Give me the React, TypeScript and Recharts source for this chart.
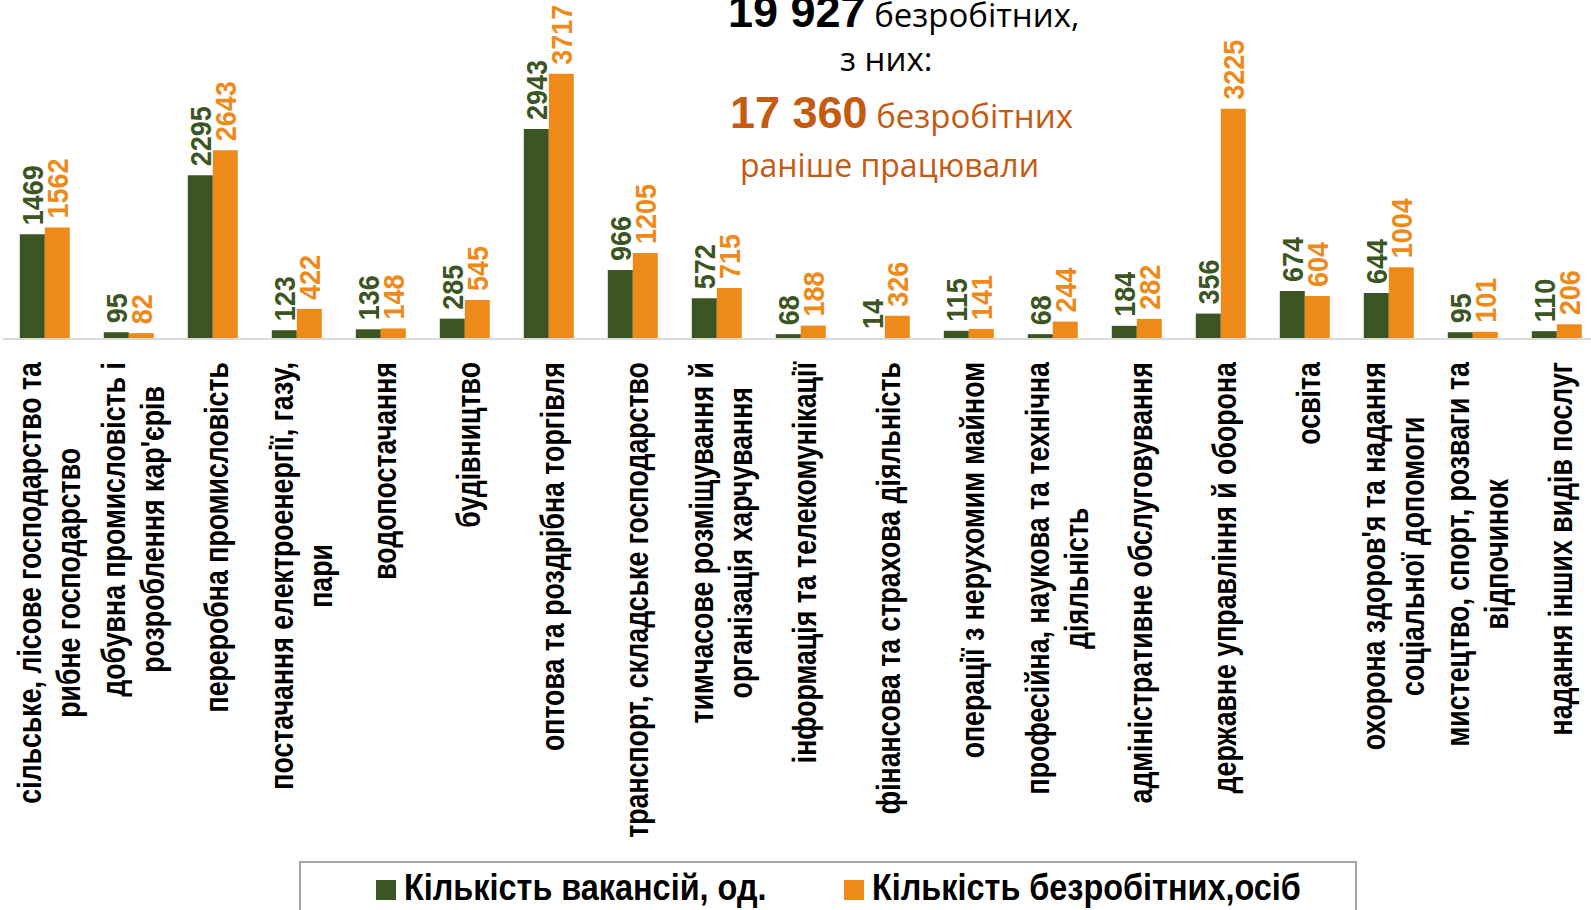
import React from 'react';
import { BarChart, Bar, XAxis, YAxis, LabelList } from 'recharts';

// галузі (підписи категорій, розбиті на рядки як на слайді)
const categories: string[][] = [
  ['сільське, лісове господарство та', 'рибне господарство'],
  ['добувна промисловість і', "розроблення кар'єрів"],
  ['переробна промисловість'],
  ['постачання електроенергії, газу,', 'пари'],
  ['водопостачання'],
  ['будівництво'],
  ['оптова та роздрібна торгівля'],
  ['транспорт, складське господарство'],
  ['тимчасове розміщування й', 'організація харчування'],
  ['інформація та телекомунікації'],
  ['фінансова та страхова діяльність'],
  ['операції з нерухомим майном'],
  ['професійна, наукова та технічна', 'діяльність'],
  ['адміністративне обслуговування'],
  ['державне управління й оборона'],
  ['освіта'],
  ["охорона здоров'я та надання", 'соціальної допомоги'],
  ['мистецтво, спорт, розваги та', 'відпочинок'],
  ['надання інших видів послуг'],
];

const vacancies = [1469, 95, 2295, 123, 136, 285, 2943, 966, 572, 68, 14, 115, 68, 184, 356, 674, 644, 95, 110];
const unemployed = [1562, 82, 2643, 422, 148, 545, 3717, 1205, 715, 188, 326, 141, 244, 282, 3225, 604, 1004, 101, 206];

const seriesNames = ['Кількість вакансій, од.', 'Кількість безробітних,осіб'];

const GREEN = '#3B5523';
const ORANGE = '#EE8A1A';
const DARK_ORANGE = '#C55A11';

const SANS = "'Liberation Sans', Arial, sans-serif";
const TICK_SIZE = 33;
const TICK_SQUEEZE = 0.81;
const VALUE_SQUEEZE = 0.9;

const data = categories.map((lines, i) => ({
  name: lines.join(' '),
  vacancies: vacancies[i],
  unemployed: unemployed[i],
}));

let ctx: CanvasRenderingContext2D | null = null;
const measure = (s: string) => {
  if (!ctx) ctx = document.createElement('canvas').getContext('2d');
  if (!ctx) return s.length * 17;
  ctx.font = `bold ${TICK_SIZE}px 'Liberation Sans', Arial, sans-serif`;
  return ctx.measureText(s).width;
};

const CategoryTick = (props: any) => {
  const { x, y, index } = props;
  const lines = categories[index] || [];
  const longest = Math.max(...lines.map(measure)) * TICK_SQUEEZE;
  const lh = 39;
  return (
    <g transform={`translate(${x + 3}, ${y + longest / 2}) rotate(-90) scale(${TICK_SQUEEZE}, 1)`}>
      <text textAnchor="middle" dominantBaseline="central" fontFamily={SANS} fontWeight="bold" fontSize={TICK_SIZE} fill="#000">
        {lines.map((l, i) => (
          <tspan key={i} x={0} y={(i - (lines.length - 1) / 2) * lh}>
            {l}
          </tspan>
        ))}
      </text>
    </g>
  );
};

const valueLabel = (color: string) => (props: any) => {
  const { x, y, width, value } = props;
  const cx = x + width / 2;
  const ty = y - 9;
  return (
    <g transform={`translate(${cx}, ${ty}) rotate(-90) scale(${VALUE_SQUEEZE}, 1)`}>
      <text x={0} y={0} textAnchor="start" dominantBaseline="central" fontFamily={SANS} fontWeight="bold" fontSize={30} fill={color}>
        {value}
      </text>
    </g>
  );
};

const legendText: React.CSSProperties = {
  position: 'absolute',
  top: 5,
  whiteSpace: 'nowrap',
  lineHeight: '40px',
  transform: 'scaleX(0.9)',
  transformOrigin: 'left center',
};

export default function App() {
  return (
    <div
      style={{
        position: 'fixed',
        left: 0,
        top: 0,
        width: 1591,
        height: 910,
        overflow: 'hidden',
        background: '#fff',
      }}
    >
      <BarChart
        width={1600}
        height={910}
        data={data}
        margin={{ top: 0, right: 1, left: 3, bottom: 0 }}
        barGap={0}
        barCategoryGap="20%"
      >
        <XAxis
          dataKey="name"
          interval={0}
          height={571}
          tickLine={false}
          tickSize={0}
          tickMargin={23}
          axisLine={{ stroke: '#D9D9D9', strokeWidth: 2 }}
          tick={<CategoryTick />}
        />
        <YAxis hide domain={[0, 4750]} />
        <Bar dataKey="vacancies" name={seriesNames[0]} fill={GREEN} isAnimationActive={false}>
          <LabelList dataKey="vacancies" content={valueLabel(GREEN)} />
        </Bar>
        <Bar dataKey="unemployed" name={seriesNames[1]} fill={ORANGE} isAnimationActive={false}>
          <LabelList dataKey="unemployed" content={valueLabel(ORANGE)} />
        </Bar>
      </BarChart>

      {/* заголовок */}
      <div style={{ position: 'absolute', left: 0, top: 0, width: 1591, fontFamily: "'Open Sans', sans-serif" }}>
        <div style={{ position: 'absolute', left: 728, top: -18, whiteSpace: 'nowrap', lineHeight: '60px' }}>
          <span style={{ fontFamily: SANS, fontWeight: 'bold', fontSize: 45 }}>19 927</span>
          <span style={{ fontSize: 33 }}> безробітних,</span>
        </div>
        <div style={{ position: 'absolute', left: 840, top: 29, whiteSpace: 'nowrap', fontSize: 33, lineHeight: '60px' }}>
          з них:
        </div>
        <div style={{ position: 'absolute', left: 730, top: 83, whiteSpace: 'nowrap', lineHeight: '60px', color: DARK_ORANGE }}>
          <span style={{ fontFamily: SANS, fontWeight: 'bold', fontSize: 45 }}>17 360</span>
          <span style={{ fontSize: 33 }}> безробітних</span>
        </div>
        <div style={{ position: 'absolute', left: 740, top: 135, whiteSpace: 'nowrap', fontSize: 32, lineHeight: '60px', color: DARK_ORANGE }}>
          раніше працювали
        </div>
      </div>

      {/* легенда */}
      <div
        style={{
          position: 'absolute',
          left: 299,
          top: 861,
          width: 1058,
          height: 80,
          border: '2px solid #A6A6A6',
          boxSizing: 'border-box',
          fontFamily: SANS,
          fontWeight: 'bold',
          fontSize: 36,
        }}
      >
        <div style={{ position: 'absolute', left: 75, top: 17, width: 20, height: 20, background: GREEN }} />
        <div style={{ ...legendText, left: 103 }}>{seriesNames[0]}</div>
        <div style={{ position: 'absolute', left: 543, top: 17, width: 20, height: 20, background: ORANGE }} />
        <div style={{ ...legendText, left: 571 }}>{seriesNames[1]}</div>
      </div>
    </div>
  );
}
